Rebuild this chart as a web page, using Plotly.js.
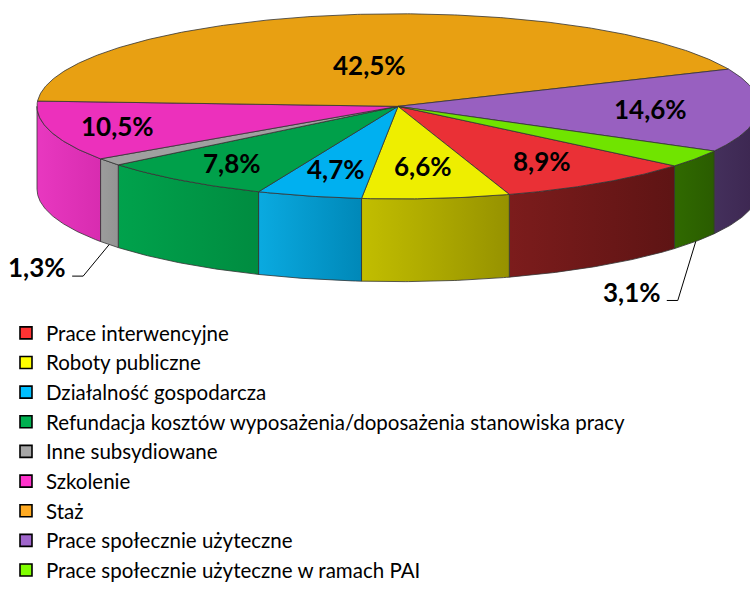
<!DOCTYPE html>
<html>
<head>
<meta charset="utf-8">
<script src="https://cdn.plot.ly/plotly-3.0.1.min.js"></script>
<style>html,body{margin:0;padding:0;background:#fff;}#chart{width:750px;height:590px;}</style>
</head>
<body>
<div id="chart"></div>
<script>
// ---- data ----
const categories = [
  'Prace interwencyjne',
  'Roboty publiczne',
  'Działalność gospodarcza',
  'Refundacja kosztów wyposażenia/doposażenia stanowiska pracy',
  'Inne subsydiowane',
  'Szkolenie',
  'Staż',
  'Prace społecznie użyteczne',
  'Prace społecznie użyteczne w ramach PAI'
];
const values = [8.9, 6.6, 4.7, 7.8, 1.3, 10.5, 42.5, 14.6, 3.1];

// ---- styles ----
const topColors    = ['#ea3036', '#eeee00', '#00b0f0', '#00a04a', '#a0a0a0', '#ec30bc', '#e8a012', '#9860c0', '#70e400'];
const sideLight    = ['#7c1c1c', '#c2be00', '#0aaae0', '#00a24c', '#9c9c9c', '#e838c0', '#d89010', '#44305c', '#306a00'];
const sideDark     = ['#5e1414', '#969200', '#0088b8', '#008c40', '#949494', '#d82cb0', '#b87808', '#3c2650', '#2a5c00'];
const legendColors = ['#ff3333', '#ffff00', '#00bfff', '#00b050', '#a6a6a6', '#ff33cc', '#ffaa22', '#a066cc', '#80ff00'];
const labelRadius  = [0.715, 0.645, 0.695, 0.768, null, 0.808, 0.45, 0.70, null];
const leaderOffset = [null, null, null, null, [-26, 32], null, null, null, [-18, 60]];

const cx = 398, cy = 108, rx = 361, ry = 94, depth = 84, rotation = 130;
const edge = '#333333';
const labelFont = {family: 'Lato, "Liberation Sans", sans-serif', size: 26, color: '#000', weight: 'bold'};

function P(t, dz) {
  const r = t * Math.PI / 180;
  return [cx + rx * Math.sin(r), cy - ry * Math.cos(r) + dz];
}
function arc(a, b, dz) {
  const pts = [];
  const n = Math.max(2, Math.ceil(Math.abs(b - a) / 0.5));
  for (let k = 0; k <= n; k++) pts.push(P(a + (b - a) * k / n, dz));
  return pts;
}
const fmt = v => v.toFixed(1).replace('.', ',') + '%';

const total = values.reduce((s, v) => s + v, 0);
let cum = 0;
const slices = values.map(v => {
  const a = rotation + cum / total * 360;
  cum += v;
  const b = rotation + cum / total * 360;
  return [a, b];
});

const traces = [];
// side walls (front half only)
const windows = [[90, 270], [450, 630]];
slices.forEach(([a, b], i) => {
  windows.forEach(([w0, w1]) => {
    const lo = Math.max(a, w0), hi = Math.min(b, w1);
    if (hi > lo) {
      const pts = arc(lo, hi, 0).concat(arc(hi, lo, depth));
      pts.push(pts[0]);
      traces.push({
        type: 'scatter', mode: 'lines',
        x: pts.map(p => p[0]), y: pts.map(p => p[1]),
        fill: 'toself', fillcolor: sideDark[i],
        fillgradient: {type: 'horizontal', colorscale: [[0, sideLight[i]], [1, sideDark[i]]]},
        line: {color: edge, width: 0.8},
        hoverinfo: 'skip', showlegend: false
      });
    }
  });
});
// top faces
slices.forEach(([a, b], i) => {
  const pts = [[cx, cy]].concat(arc(a, b, 0));
  pts.push([cx, cy]);
  traces.push({
    type: 'scatter', mode: 'lines',
    x: pts.map(p => p[0]), y: pts.map(p => p[1]),
    fill: 'toself', fillcolor: topColors[i],
    line: {color: edge, width: 0.8},
    hoverinfo: 'skip', showlegend: false
  });
});

// labels
const annotations = [];
slices.forEach(([a, b], i) => {
  const mid = (a + b) / 2;
  if (labelRadius[i] !== null) {
    const r = mid * Math.PI / 180;
    const f = labelRadius[i];
    annotations.push({
      x: cx + rx * f * Math.sin(r), y: cy - ry * f * Math.cos(r),
      xref: 'x', yref: 'y', text: fmt(values[i]), showarrow: false,
      font: labelFont, xanchor: 'center', yanchor: 'middle'
    });
  } else {
    const anchor = P(mid, depth);
    const off = leaderOffset[i];
    const elbow = [anchor[0] + off[0], anchor[1] + off[1]];
    const end = [elbow[0] - 11, elbow[1]];
    traces.push({
      type: 'scatter', mode: 'lines',
      x: [anchor[0], elbow[0], end[0]], y: [anchor[1], elbow[1], end[1]],
      line: {color: '#000', width: 1}, hoverinfo: 'skip', showlegend: false
    });
    annotations.push({
      x: end[0] - 4, y: end[1] - 9,
      xref: 'x', yref: 'y', text: fmt(values[i]), showarrow: false,
      font: labelFont, xanchor: 'right', yanchor: 'middle'
    });
  }
});

// legend entries
categories.forEach((c, i) => {
  traces.push({
    type: 'scatter', mode: 'markers', x: [null], y: [null], name: c,
    marker: {symbol: 'square', size: 12, color: legendColors[i], line: {color: '#000', width: 1.6}},
    hoverinfo: 'skip', showlegend: true
  });
});

const layout = {
  width: 750, height: 590,
  margin: {l: 0, r: 0, t: 0, b: 0},
  paper_bgcolor: '#fff', plot_bgcolor: '#fff',
  xaxis: {range: [0, 750], visible: false, fixedrange: true},
  yaxis: {range: [590, 0], visible: false, fixedrange: true},
  showlegend: true,
  legend: {
    x: 0.008, y: 0.461, xanchor: 'left', yanchor: 'top',
    font: {family: 'Lato, "Liberation Sans", sans-serif', size: 20.5, color: '#000'},
    bgcolor: 'rgba(0,0,0,0)', traceorder: 'normal'
  },
  annotations: annotations,
  hovermode: false
};

Plotly.newPlot('chart', traces, layout, {staticPlot: true, displayModeBar: false});
</script>
</body>
</html>
